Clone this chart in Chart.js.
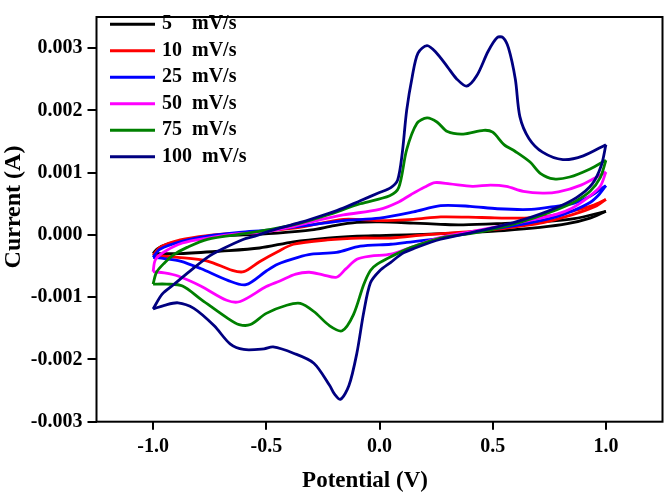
<!DOCTYPE html>
<html>
<head>
<meta charset="utf-8">
<script src="https://cdn.jsdelivr.net/npm/chart.js@4.4.1/dist/chart.umd.min.js"></script>
<style>
  html, body { margin: 0; padding: 0; background: #fff; }
  #wrap { width: 664px; height: 495px; }
</style>
</head>
<body>
<div id="wrap"><canvas id="cv" width="664" height="495"></canvas></div>
<script>
// ticks
const potentialTicks = [-1.0, -0.5, 0.0, 0.5, 1.0];
const currentTicks = [-0.003, -0.002, -0.001, 0, 0.001, 0.002, 0.003];

// scan rates (legend text) and line colours
const rateLabels = ['5    mV/s', '10  mV/s', '25  mV/s', '50  mV/s', '75  mV/s', '100  mV/s'];
const rateColors = ['#000000', '#ff0000', '#0000ff', '#ff00ff', '#008000', '#000080'];

/* ===============================
   BARRIDOS  [potencial V, corriente A]
   fwd = -1.0 -> 1.0 , rev = 1.0 -> -1.0
================================= */
const fwd5 = [[-1.00,-0.30e-3],[-0.98,-0.22e-3],[-0.93,-0.14e-3],[-0.85,-0.08e-3],[-0.75,-0.03e-3],[-0.60,0.00e-3],[-0.45,0.03e-3],[-0.30,0.08e-3],[-0.20,0.15e-3],[-0.10,0.20e-3],[0.00,0.21e-3],[0.15,0.19e-3],[0.27,0.17e-3],[0.37,0.16e-3],[0.58,0.19e-3],[0.71,0.21e-3],[0.86,0.26e-3],[1.00,0.38e-3]];
const rev5 = [[1.00,0.38e-3],[0.93,0.27e-3],[0.83,0.18e-3],[0.71,0.12e-3],[0.55,0.07e-3],[0.40,0.04e-3],[0.27,0.02e-3],[0.12,0.00e-3],[0.00,-0.01e-3],[-0.10,-0.02e-3],[-0.23,-0.05e-3],[-0.38,-0.11e-3],[-0.53,-0.21e-3],[-0.70,-0.26e-3],[-0.88,-0.30e-3],[-1.00,-0.30e-3]];

const fwd10 = [[-1.00,-0.33e-3],[-0.97,-0.20e-3],[-0.88,-0.08e-3],[-0.76,-0.01e-3],[-0.62,0.03e-3],[-0.48,0.07e-3],[-0.34,0.13e-3],[-0.16,0.25e-3],[0.00,0.23e-3],[0.15,0.25e-3],[0.27,0.29e-3],[0.45,0.28e-3],[0.64,0.27e-3],[0.76,0.31e-3],[0.86,0.39e-3],[0.94,0.47e-3],[1.00,0.57e-3]];
const rev10 = [[1.00,0.57e-3],[0.96,0.47e-3],[0.89,0.37e-3],[0.80,0.27e-3],[0.71,0.19e-3],[0.60,0.13e-3],[0.49,0.08e-3],[0.35,0.04e-3],[0.20,0.00e-3],[0.05,-0.05e-3],[-0.085,-0.05e-3],[-0.23,-0.08e-3],[-0.38,-0.15e-3],[-0.45,-0.27e-3],[-0.53,-0.43e-3],[-0.60,-0.59e-3],[-0.65,-0.57e-3],[-0.76,-0.42e-3],[-0.89,-0.36e-3],[-1.00,-0.33e-3]];

const fwd25 = [[-1.00,-0.36e-3],[-0.97,-0.23e-3],[-0.87,-0.10e-3],[-0.76,-0.02e-3],[-0.62,0.04e-3],[-0.48,0.08e-3],[-0.30,0.16e-3],[-0.16,0.23e-3],[0.00,0.27e-3],[0.15,0.37e-3],[0.27,0.47e-3],[0.40,0.46e-3],[0.52,0.42e-3],[0.67,0.41e-3],[0.78,0.46e-3],[0.86,0.51e-3],[0.93,0.62e-3],[1.00,0.79e-3]];
const rev25 = [[1.00,0.79e-3],[0.97,0.65e-3],[0.93,0.52e-3],[0.85,0.38e-3],[0.78,0.29e-3],[0.66,0.19e-3],[0.56,0.13e-3],[0.40,0.04e-3],[0.27,-0.05e-3],[0.12,-0.12e-3],[0.05,-0.15e-3],[-0.085,-0.18e-3],[-0.19,-0.28e-3],[-0.30,-0.31e-3],[-0.36,-0.36e-3],[-0.45,-0.47e-3],[-0.50,-0.58e-3],[-0.59,-0.80e-3],[-0.67,-0.73e-3],[-0.79,-0.54e-3],[-0.88,-0.42e-3],[-0.95,-0.38e-3],[-1.00,-0.36e-3]];

const fwd50 = [[-1.00,-0.59e-3],[-0.99,-0.40e-3],[-0.95,-0.27e-3],[-0.87,-0.13e-3],[-0.76,-0.05e-3],[-0.62,0.02e-3],[-0.52,0.04e-3],[-0.40,0.12e-3],[-0.30,0.21e-3],[-0.16,0.32e-3],[0.00,0.41e-3],[0.08,0.52e-3],[0.14,0.65e-3],[0.20,0.77e-3],[0.245,0.84e-3],[0.31,0.82e-3],[0.41,0.78e-3],[0.49,0.80e-3],[0.56,0.78e-3],[0.635,0.70e-3],[0.72,0.67e-3],[0.79,0.69e-3],[0.89,0.80e-3],[1.00,1.01e-3]];
const rev50 = [[1.00,1.01e-3],[0.975,0.78e-3],[0.92,0.60e-3],[0.85,0.43e-3],[0.78,0.33e-3],[0.66,0.23e-3],[0.56,0.16e-3],[0.40,0.05e-3],[0.27,-0.04e-3],[0.14,-0.20e-3],[0.05,-0.31e-3],[-0.04,-0.34e-3],[-0.10,-0.39e-3],[-0.15,-0.55e-3],[-0.19,-0.68e-3],[-0.25,-0.64e-3],[-0.31,-0.60e-3],[-0.37,-0.63e-3],[-0.44,-0.74e-3],[-0.50,-0.83e-3],[-0.615,-1.07e-3],[-0.675,-1.05e-3],[-0.79,-0.82e-3],[-0.89,-0.66e-3],[-0.95,-0.61e-3],[-1.00,-0.59e-3]];

const fwd75 = [[-1.00,-0.79e-3],[-0.985,-0.60e-3],[-0.95,-0.45e-3],[-0.91,-0.32e-3],[-0.85,-0.20e-3],[-0.76,-0.07e-3],[-0.60,0.02e-3],[-0.48,0.09e-3],[-0.35,0.19e-3],[-0.23,0.32e-3],[-0.085,0.50e-3],[0.045,0.63e-3],[0.085,0.76e-3],[0.12,1.37e-3],[0.165,1.79e-3],[0.21,1.88e-3],[0.255,1.81e-3],[0.30,1.66e-3],[0.37,1.62e-3],[0.46,1.68e-3],[0.50,1.65e-3],[0.55,1.45e-3],[0.60,1.34e-3],[0.665,1.17e-3],[0.71,0.99e-3],[0.77,0.90e-3],[0.84,0.93e-3],[0.93,1.06e-3],[1.00,1.20e-3]];
const rev75 = [[1.00,1.20e-3],[0.975,0.92e-3],[0.93,0.70e-3],[0.86,0.53e-3],[0.75,0.36e-3],[0.62,0.20e-3],[0.50,0.09e-3],[0.40,0.02e-3],[0.27,-0.05e-3],[0.14,-0.20e-3],[0.05,-0.35e-3],[-0.01,-0.47e-3],[-0.04,-0.57e-3],[-0.07,-0.80e-3],[-0.115,-1.28e-3],[-0.165,-1.54e-3],[-0.22,-1.46e-3],[-0.29,-1.23e-3],[-0.35,-1.10e-3],[-0.41,-1.13e-3],[-0.50,-1.26e-3],[-0.57,-1.44e-3],[-0.62,-1.44e-3],[-0.67,-1.34e-3],[-0.79,-1.03e-3],[-0.87,-0.82e-3],[-0.94,-0.79e-3],[-1.00,-0.79e-3]];

const fwd100 = [[-1.00,-1.19e-3],[-0.96,-0.95e-3],[-0.91,-0.80e-3],[-0.84,-0.59e-3],[-0.76,-0.36e-3],[-0.69,-0.22e-3],[-0.60,-0.07e-3],[-0.55,-0.02e-3],[-0.48,0.07e-3],[-0.35,0.20e-3],[-0.23,0.34e-3],[-0.16,0.43e-3],[-0.085,0.55e-3],[0.00,0.68e-3],[0.05,0.76e-3],[0.08,0.88e-3],[0.10,1.30e-3],[0.12,2.00e-3],[0.145,2.55e-3],[0.17,2.92e-3],[0.21,3.04e-3],[0.25,2.93e-3],[0.30,2.70e-3],[0.34,2.51e-3],[0.385,2.39e-3],[0.43,2.56e-3],[0.48,2.95e-3],[0.52,3.17e-3],[0.545,3.17e-3],[0.57,3.00e-3],[0.60,2.50e-3],[0.62,1.90e-3],[0.66,1.55e-3],[0.72,1.33e-3],[0.81,1.21e-3],[0.90,1.27e-3],[1.00,1.45e-3]];
const rev100 = [[1.00,1.45e-3],[0.98,1.12e-3],[0.94,0.82e-3],[0.87,0.60e-3],[0.77,0.42e-3],[0.64,0.25e-3],[0.52,0.13e-3],[0.41,0.04e-3],[0.27,-0.07e-3],[0.15,-0.22e-3],[0.10,-0.30e-3],[0.05,-0.44e-3],[0.00,-0.58e-3],[-0.04,-0.77e-3],[-0.07,-1.25e-3],[-0.10,-1.90e-3],[-0.135,-2.42e-3],[-0.172,-2.64e-3],[-0.20,-2.55e-3],[-0.22,-2.42e-3],[-0.29,-2.06e-3],[-0.38,-1.90e-3],[-0.47,-1.80e-3],[-0.51,-1.83e-3],[-0.60,-1.84e-3],[-0.66,-1.75e-3],[-0.73,-1.46e-3],[-0.82,-1.18e-3],[-0.89,-1.09e-3],[-0.95,-1.13e-3],[-1.00,-1.19e-3]];

const sweeps = [[fwd5, rev5], [fwd10, rev10], [fwd25, rev25], [fwd50, rev50], [fwd75, rev75], [fwd100, rev100]];

const serif = '"Liberation Serif", "Times New Roman", serif';

/* ===============================
   DATASETS (una curva por barrido)
================================= */
let datasets = [];
sweeps.forEach(function (pair, i) {
    pair.forEach(function (branch) {
        datasets.push({
            label: rateLabels[i],
            data: branch.map(p => ({ x: p[0], y: p[1] })),
            showLine: true,
            borderColor: rateColors[i],
            borderWidth: 2.8,
            pointRadius: 0,
            tension: 0.3,
            fill: false,
            order: sweeps.length - i
        });
    });
});

/* ===============================
   MARCO, LEYENDA Y TITULOS
================================= */
const marco = {
    id: 'marco',
    afterDraw(chart) {
        let ctx = chart.ctx;
        let a = chart.chartArea;
        ctx.save();

        ctx.strokeStyle = '#000';
        ctx.lineWidth = 2;
        ctx.strokeRect(a.left, a.top, a.right - a.left, a.bottom - a.top);

        ctx.font = 'bold 20px ' + serif;
        ctx.textBaseline = 'middle';
        ctx.textAlign = 'left';
        rateLabels.forEach(function (txt, i) {
            let y = 24.3 + i * 26.5;
            ctx.strokeStyle = rateColors[i];
            ctx.lineWidth = 3;
            ctx.beginPath();
            ctx.moveTo(110, y);
            ctx.lineTo(155, y);
            ctx.stroke();
            ctx.fillStyle = '#000';
            ctx.fillText(txt, 162, y);
        });

        ctx.textAlign = 'center';
        ctx.font = 'bold 23px ' + serif;
        ctx.fillText('Potential (V)', 365, 481.5);

        ctx.translate(13.5, 207);
        ctx.rotate(-Math.PI / 2);
        ctx.font = 'bold 24px ' + serif;
        ctx.fillText('Current (A)', 0, 0);

        ctx.restore();
    }
};

new Chart(document.getElementById('cv'), {
    type: 'scatter',
    data: { datasets: datasets },
    plugins: [marco],
    options: {
        responsive: false,
        devicePixelRatio: 1,
        animation: false,
        layout: { padding: { left: 0, top: 2.5, right: 1.5, bottom: 0 } },
        plugins: {
            legend: { display: false },
            tooltip: { enabled: false }
        },
        scales: {
            x: {
                type: 'linear',
                min: -1.25,
                max: 1.25,
                afterBuildTicks: s => { s.ticks = potentialTicks.map(v => ({ value: v })); },
                afterFit: s => { s.height = 73.3; },
                border: { display: false },
                grid: { display: true, drawOnChartArea: false, drawTicks: true, tickLength: 8, color: '#000', lineWidth: 2 },
                ticks: {
                    color: '#000',
                    padding: 5,
                    maxRotation: 0,
                    autoSkip: false,
                    font: { family: serif, size: 20, weight: 'bold' },
                    callback: v => Number(v).toFixed(1)
                }
            },
            y: {
                type: 'linear',
                min: -0.003,
                max: 0.0035,
                afterBuildTicks: s => { s.ticks = currentTicks.map(v => ({ value: v })); },
                afterFit: s => { s.width = 96.5; },
                border: { display: false },
                grid: { display: true, drawOnChartArea: false, drawTicks: true, tickLength: 9, color: '#000', lineWidth: 2 },
                ticks: {
                    color: '#000',
                    padding: 5,
                    autoSkip: false,
                    font: { family: serif, size: 20, weight: 'bold' },
                    callback: v => Number(v).toFixed(3)
                }
            }
        }
    }
});
</script>
</body>
</html>
